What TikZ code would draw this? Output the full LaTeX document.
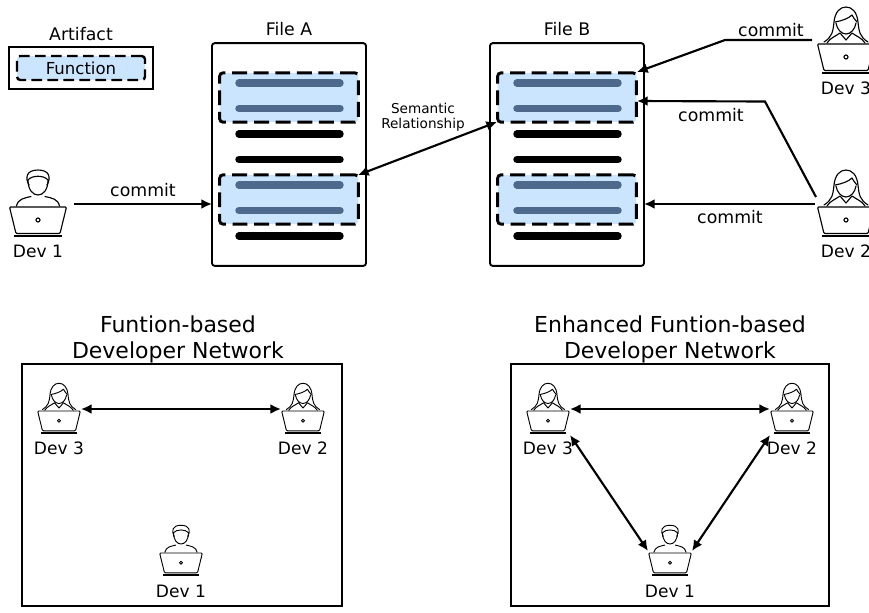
\documentclass[tikz,border=0pt]{standalone}
\usepackage{fontspec}
\setmainfont{DejaVu Sans}
\usetikzlibrary{arrows.meta}
\definecolor{funcfill}{HTML}{CCE5FF}
\definecolor{funcline}{HTML}{4D6A8C}
\tikzset{
  x=0.75pt,y=-0.75pt,
  small/.style={x=0.5625pt,y=-0.5625pt},
  iconline/.style={line width=0.85pt,line join=round,line cap=round},
  iconlinesmall/.style={line width=0.7pt},
  laptop/.pic={
    \draw[iconline,rounded corners=0.8pt,fill=white] (-28.5,0)--(28.5,0)--(22,26.5)--(-22,26.5)--cycle;
    \draw[line width=1.5pt] (-24,29.3)--(24,29.3);
    \draw[iconline] (0,13) circle[radius=2];
  },
  malepic/.pic={
    \draw[iconline] (-10,-27) .. controls (-10,-17) and (-5,-12) .. (0,-12) .. controls (5,-12) and (10,-17) .. (10,-27);
    \draw[iconline] (-9,-22) .. controls (-13,-29) and (-12,-37) .. (0,-37) .. controls (12,-37) and (13,-29) .. (9,-22);
    \draw[iconline] (-10,-27) .. controls (-6,-32) and (6,-32) .. (10,-27);
    \draw[iconline] (-21.5,-1) .. controls (-20,-8) and (-14,-9) .. (-7,-10.5);
    \draw[iconline] (21.5,-1) .. controls (20,-8) and (14,-9) .. (7,-10.5);
    \pic{laptop};
  },
  femalepic/.pic={
    \draw[iconline] (-22,-2) .. controls (-14,-7) and (-13,-12) .. (-12,-22) .. controls (-11,-32) and (-6,-37) .. (0,-37) .. controls (6,-37) and (11,-32) .. (12,-22) .. controls (13,-12) and (14,-7) .. (22,-2);
    \draw[iconline] (-10,-21) .. controls (-9,-15) and (-5,-10) .. (0,-10) .. controls (5,-10) and (9,-15) .. (10,-21);
    \draw[iconline] (-11,-22) .. controls (-4,-23) and (3,-26) .. (6,-29) .. controls (7,-27) and (9,-24) .. (11,-22);
    \draw[iconline] (-19,-1) .. controls (-16,-6) and (-10,-8) .. (-6,-11) -- (0,-4) -- (6,-11) .. controls (10,-8) and (16,-6) .. (19,-1);
    \pic{laptop};
  },
  devbox/.style 2 args={inner sep=0pt,outer sep=0pt,minimum width=#1*0.75pt,minimum height=#2*0.75pt},
  devlabel/.style={font=\fontsize{12.8}{15}\selectfont,inner sep=0pt},
  filebox/.style={draw,line width=1.4pt,rounded corners=2pt,minimum width=115.5pt,minimum height=167pt,inner sep=0pt,outer sep=0pt},
  funcbox/.style={draw,line width=2.2pt,dash pattern=on 11.2pt off 5pt,fill=funcfill,rounded corners=2.5pt,minimum width=104pt,minimum height=37pt,inner sep=0pt,outer sep=0pt},
  codeline/.style={line width=5.6pt,line cap=round},
  plainbox/.style={draw,line width=1.9pt,inner sep=0pt,outer sep=0pt},
  flow/.style={line width=1.6pt,-{Latex[length=8pt,width=7.5pt]}},
  both/.style={line width=1.6pt,{Latex[length=8pt,width=7.5pt]}-{Latex[length=8pt,width=7.5pt]}},
  titletext/.style={font=\fontsize{16.5}{19.5}\selectfont,align=center,inner sep=0pt},
  labeltext/.style={font=\fontsize{13}{15}\selectfont,inner sep=0pt},
}
\begin{document}
\begin{tikzpicture}
\useasboundingbox (0,0) rectangle (869,612);
\fill[white] (0,0) rectangle (869,612);

% legend
\node[labeltext] (artlabel) at (81,34) {Artifact};
\node[plainbox,minimum width=108pt,minimum height=31.5pt] (artifact) at (81,68) {};
\node[funcbox,line width=1.8pt,dash pattern=on 8pt off 4pt,minimum width=96pt,minimum height=18pt,font=\fontsize{12.4}{14}\selectfont] (function) at (81,68) {Function};

% files
\node[labeltext] (falabel) at (289,29) {File A};
\node[labeltext] (fblabel) at (567,29) {File B};
\node[filebox] (fileA) at (289,154.5) {};
\node[filebox] (fileB) at (567,154.5) {};
\node[funcbox] (a1) at (289,97.5) {};
\node[funcbox] (a2) at (289,199.5) {};
\node[funcbox] (b1) at (567,97.5) {};
\node[funcbox] (b2) at (567,199.5) {};
\foreach \cx in {289.5,567.5} {
  \foreach \cy in {83,108.5,185,210.5} \draw[codeline,funcline] (\cx-50.5,\cy)--(\cx+50.5,\cy);
  \foreach \cy in {134,159.5,236} \draw[codeline] (\cx-50.5,\cy)--(\cx+50.5,\cy);
}

% developers, top
\node[devbox={72}{58}] (d1) at (38,204) {};
\pic at (38,207) {malepic};
\node[devlabel] (d1l) at (38,251.5) {Dev 1};
\node[devbox={68}{58}] (d3) at (846,40) {};
\pic at (846,44) {femalepic};
\node[devlabel] (d3l) at (846,88) {Dev 3};
\node[devbox={62}{58}] (d2) at (846,204) {};
\pic at (846,207) {femalepic};
\node[devlabel] (d2l) at (846,251.5) {Dev 2};

% commits
\draw[flow] (d1.east) -- node[labeltext,above=5pt] (c1) {commit} (fileA.west |- d1.east);
\coordinate (d3bend) at (725,40);
\coordinate (b1t) at (637,72);
\draw[flow] (d3.west) -- (d3bend) -- (b1t);
\node[labeltext] (c3) at (771,30) {commit};
\coordinate (d2top) at (816,197);
\coordinate (d2bend) at (765,101.5);
\coordinate (b1r) at (637,101);
\draw[flow] (d2top) -- (d2bend) -- (b1r);
\node[labeltext] (c2a) at (711,115) {commit};
\draw[flow] (d2.west) -- (fileB.east |- d2.west);
\node[labeltext] (c2b) at (730,217) {commit};

% semantic relationship
\coordinate (a2se) at (358,175);
\coordinate (b1sw) at (497,122);
\draw[both] (a2se) -- (b1sw);
\node[font=\fontsize{10.2}{11.3}\selectfont,align=center,inner sep=0pt] (sem) at (423,117) {Semantic\\Relationship};

% bottom titles
\node[titletext] (tl) at (178,339) {Funtion-based\\Developer Network};
\node[titletext] (tr) at (670,339) {Enhanced Funtion-based\\Developer Network};

% left network
\node[plainbox,minimum width=240pt,minimum height=181.5pt] (netL) at (182,485) {};
\node[devbox={44}{52}] (l3) at (59,409) {};
\path (59,411) pic[small,iconline/.append style={iconlinesmall}] {femalepic};
\node[devlabel] (l3l) at (59,448) {Dev 3};
\node[devbox={44}{52}] (l2) at (303,409) {};
\path (303,411) pic[small,iconline/.append style={iconlinesmall}] {femalepic};
\node[devlabel] (l2l) at (303,448) {Dev 2};
\node[devbox={44}{52}] (l1) at (181,551) {};
\path (181,553) pic[small,iconline/.append style={iconlinesmall}] {malepic};
\node[devlabel] (l1l) at (181,591) {Dev 1};
\draw[both] (l3.east) -- (l2.west);

% right network
\node[plainbox,minimum width=238.5pt,minimum height=181.5pt] (netR) at (670,485) {};
\node[devbox={44}{52}] (r3) at (548,409) {};
\path (548,411) pic[small,iconline/.append style={iconlinesmall}] {femalepic};
\node[devlabel] (r3l) at (548,448) {Dev 3};
\node[devbox={44}{52}] (r2) at (792,409) {};
\path (792,411) pic[small,iconline/.append style={iconlinesmall}] {femalepic};
\node[devlabel] (r2l) at (792,448) {Dev 2};
\node[devbox={44}{52}] (r1) at (670,551) {};
\path (670,553) pic[small,iconline/.append style={iconlinesmall}] {malepic};
\node[devlabel] (r1l) at (670,591) {Dev 1};
\draw[both] (r3.east) -- (r2.west);
\draw[both] (r3.south east) -- (r1.west);
\draw[both] (r2.south west) -- (r1.east);
\end{tikzpicture}
\end{document}
